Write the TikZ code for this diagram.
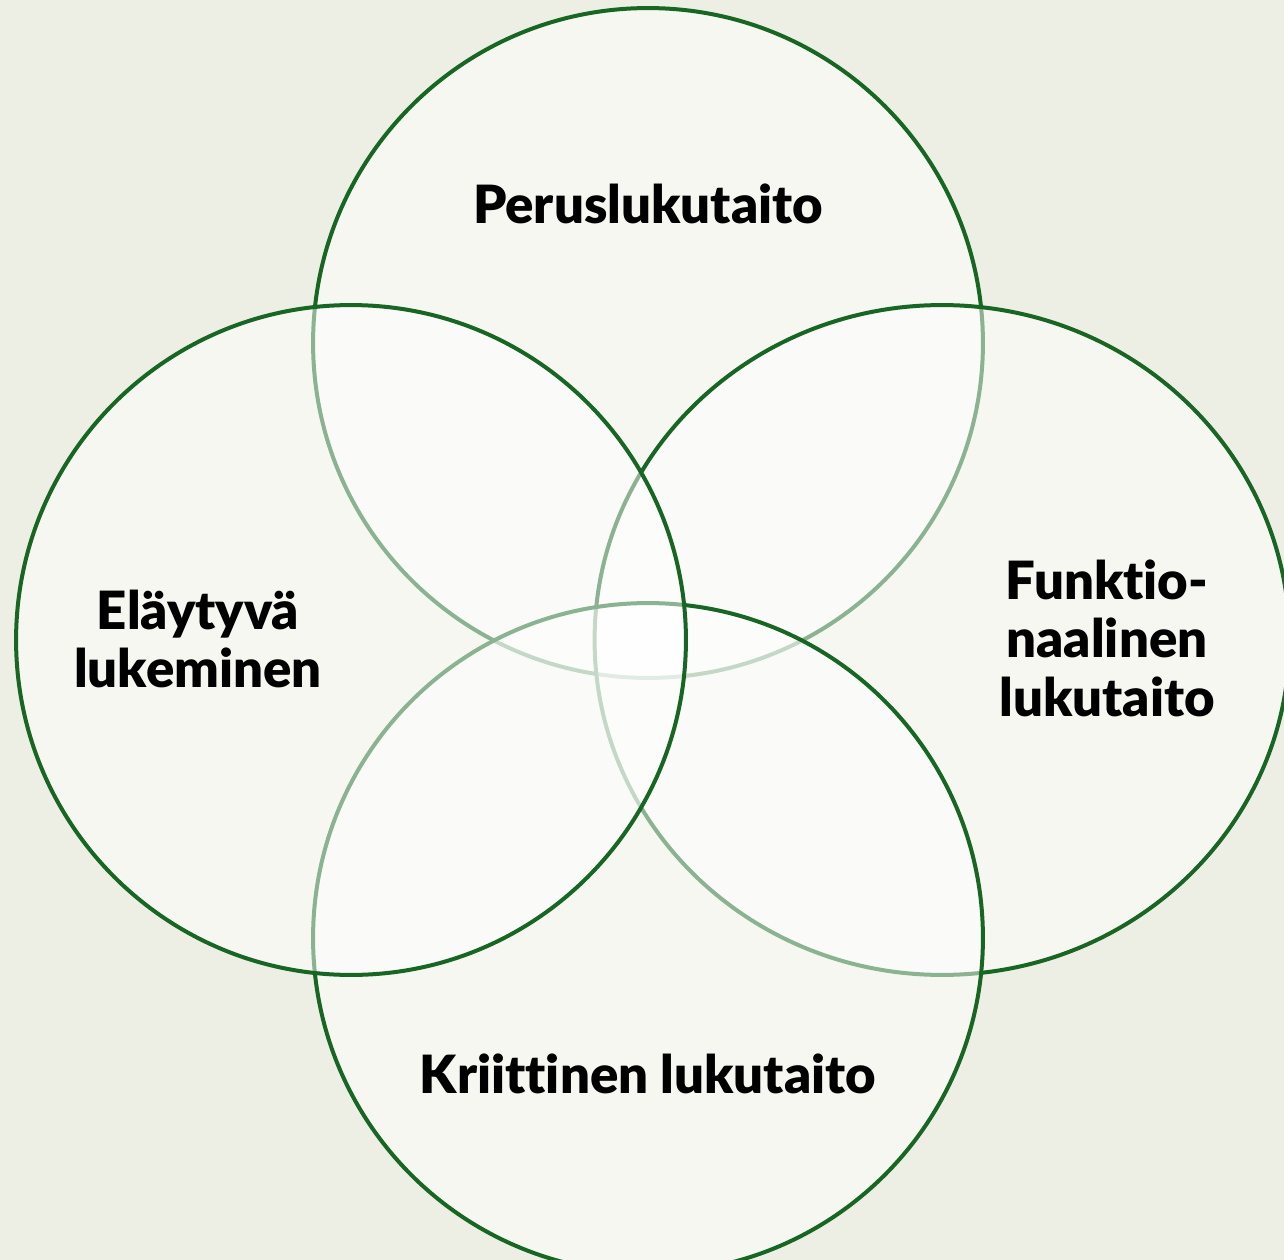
\documentclass[tikz,border=0pt]{standalone}
\usepackage{fontspec}
\setmainfont{Lato}[BoldFont={Lato Black},Ligatures=NoCommon]
\usetikzlibrary{shapes.geometric}
\definecolor{bgcol}{RGB}{238,239,228}
\definecolor{ringgreen}{RGB}{24,102,36}
\begin{document}
\begin{tikzpicture}[x=0.02cm,y=-0.02cm,
  ring/.style={ellipse,draw=ringgreen,line width=0.08cm,fill=white,fill opacity=0.5,minimum width=13.4cm,minimum height=13.4cm,inner sep=0pt},
  lbl/.style={font=\fontsize{30}{33.3}\selectfont\bfseries,text=black,align=center,inner sep=0pt}]
\fill[bgcol] (0,0) rectangle (1284,1260);
\useasboundingbox (0,0) rectangle (1284,1260);
\node[ring] (ctop) at (648,343) {};
\node[ring,minimum width=13.9cm] (cright) at (942,640) {};
\node[ring] (cbottom) at (648,938) {};
\node[ring] (cleft) at (351,640) {};
\node[lbl] (ttop) at (648,204) {Peruslukutaito};
\node[lbl] (tbottom) at (648,1074) {Kriittinen lukutaito};
\node[lbl] (tleft) at (198,639) {Eläytyvä\\lukeminen};
\node[lbl] (tright) at (1107,638) {Funktio-\\naalinen\\lukutaito};
\end{tikzpicture}
\end{document}
